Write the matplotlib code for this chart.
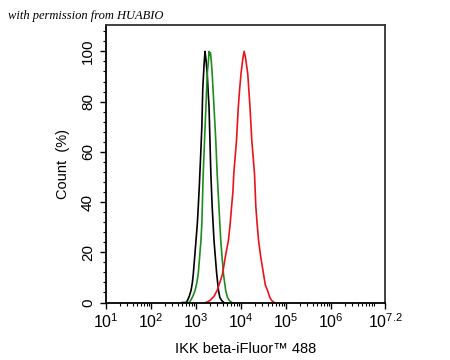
import numpy as np
import matplotlib
matplotlib.use("Agg")
import matplotlib.pyplot as plt
from matplotlib.ticker import FixedLocator, NullFormatter

plt.rcParams['font.family'] = ['Liberation Sans', 'DejaVu Sans']
plt.rcParams['mathtext.fontset'] = 'custom'
plt.rcParams['mathtext.rm'] = 'Liberation Sans'
plt.rcParams['mathtext.it'] = 'Liberation Sans'
plt.rcParams['mathtext.default'] = 'regular'

# histogram outlines, x in log10 units, y in percent of max
black_log = [2.70, 2.78, 2.81, 2.85, 2.89, 2.92, 2.94, 2.97, 3.00, 3.03, 3.05, 3.07, 3.10, 3.13, 3.15, 3.18, 3.20,
             3.22, 3.25, 3.27, 3.29, 3.31, 3.33, 3.36, 3.40, 3.43, 3.46, 3.50, 3.53, 3.57, 3.62]
black_y = [0, 0, 0.8, 2.5, 4.8, 8.0, 11.4, 18.0, 24.7, 31.5, 38.0, 45.0, 57.0, 70.0, 85.0, 95.0, 100,
           97.0, 91.1, 84.0, 77.8, 64.5, 51.3, 38.0, 24.7, 18.0, 11.4, 4.8, 2.0, 0.8, 0]

green_log = [2.80, 2.85, 2.88, 2.93, 2.98, 3.02, 3.05, 3.08, 3.11, 3.13, 3.14, 3.16, 3.19, 3.22, 3.25, 3.28, 3.29,
             3.31, 3.32, 3.34, 3.36, 3.40, 3.44, 3.47, 3.51, 3.55, 3.58, 3.61, 3.66, 3.70, 3.74, 3.80]
green_y = [0, 0, 0.8, 2.5, 4.8, 8.0, 11.4, 18.0, 24.7, 31.5, 38.0, 51.3, 64.5, 77.8, 91.1, 97.0, 100,
           98.5, 99.5, 96.0, 91.1, 77.8, 64.5, 51.3, 38.0, 24.7, 18.0, 11.4, 4.8, 2.0, 0.8, 0]

red_log = [3.22, 3.31, 3.40, 3.47, 3.53, 3.59, 3.65, 3.72, 3.76, 3.79, 3.82, 3.84, 3.87, 3.90, 3.94, 3.97, 4.00, 4.04,
           4.07, 4.10, 4.15, 4.20, 4.24, 4.27, 4.30, 4.33, 4.36, 4.39, 4.44, 4.50, 4.54, 4.59, 4.64, 4.68, 4.74]
red_y = [0, 0.8, 2.5, 4.8, 8.0, 11.4, 18.0, 24.7, 31.5, 38.0, 44.0, 51.3, 58.0, 64.5, 77.8, 85.0, 91.1, 97.0,
         100, 97.5, 91.1, 77.8, 64.5, 58.0, 51.3, 38.0, 31.0, 24.7, 18.0, 11.4, 7.0, 4.8, 2.0, 0.8, 0]

x_ticks_log = [1, 2, 3, 4, 5, 6, 7.2]
x_tick_labels = ['$10^{1}$', '$10^{2}$', '$10^{3}$', '$10^{4}$', '$10^{5}$', '$10^{6}$', '$10^{7.2}$']
y_ticks = [0, 20, 40, 60, 80, 100]

fig = plt.figure(figsize=(4.5, 3.6), dpi=100)
ax = fig.add_axes([106 / 450, 1 - 302.5 / 360, 279 / 450, 277.5 / 360])

ax.plot(10 ** np.array(black_log), black_y, color='black', lw=1.2)
ax.plot(10 ** np.array(green_log), green_y, color='#1e8c1e', lw=1.2)
ax.plot(10 ** np.array(red_log), red_y, color='#e8141c', lw=1.2)

ax.set_xscale('log')
ax.set_xlim(10, 10 ** 7.2)
ax.set_ylim(0, 110.5)

ax.xaxis.set_major_locator(FixedLocator([10 ** v for v in x_ticks_log]))
ax.set_xticklabels(x_tick_labels, fontsize=11.5)
minor = [m * 10 ** d for d in range(1, 7) for m in range(2, 10)]
ax.xaxis.set_minor_locator(FixedLocator(minor))
ax.xaxis.set_minor_formatter(NullFormatter())

ax.set_yticks(y_ticks)
ax.set_yticklabels([str(v) for v in y_ticks], fontsize=11, rotation=90, va='center')
ax.yaxis.set_minor_locator(FixedLocator(list(range(0, 110, 4))))

ax.tick_params(which='major', direction='out', length=4, width=1, pad=3)
ax.tick_params(axis='y', which='major', pad=4)
ax.tick_params(which='minor', direction='out', length=2, width=0.8)

for side in ['left', 'bottom', 'right', 'top']:
    ax.spines[side].set_linewidth(1.3)
ax.spines['top'].set_color('#333333')
ax.spines['right'].set_color('#333333')

ax.set_xlabel('IKK beta-iFluor™ 488', fontsize=10.5, labelpad=8)
ax.set_ylabel('Count  (%)', fontsize=10.5, labelpad=8)

fig.text(8 / 450, 1 - 16 / 360, 'with permission from HUABIO', fontsize=9,
         family=['Liberation Serif', 'DejaVu Serif'], style='italic', va='center')

fig.savefig('out.png', dpi=100)
